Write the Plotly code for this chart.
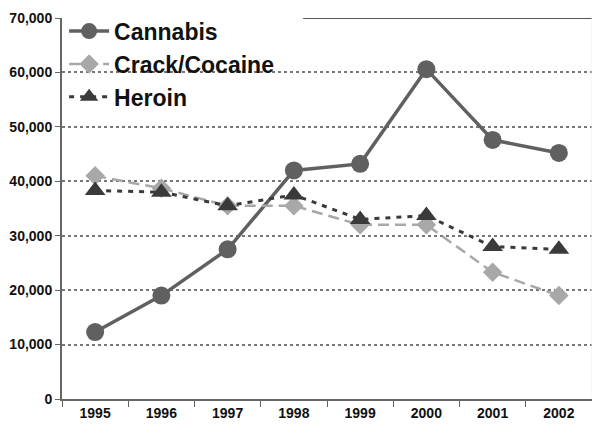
import plotly.graph_objects as go

years = ["1995", "1996", "1997", "1998", "1999", "2000", "2001", "2002"]
cannabis = [12300, 19000, 27500, 42000, 43200, 60600, 47600, 45200]
crack = [41000, 38700, 35500, 35500, 32000, 32000, 23300, 19000]
heroin = [38300, 38000, 35500, 37500, 33000, 33700, 28000, 27500]
y_ticks = [0, 10000, 20000, 30000, 40000, 50000, 60000, 70000]

FONT = "Arial, Liberation Sans, sans-serif"

fig = go.Figure()
fig.add_trace(go.Scatter(
    x=years, y=cannabis, name="Cannabis", mode="lines+markers",
    line=dict(color="#606060", width=3.5),
    marker=dict(symbol="circle", size=18, color="#606060"),
))
fig.add_trace(go.Scatter(
    x=years, y=crack, name="Crack/Cocaine", mode="lines+markers",
    line=dict(color="#a8a8a8", width=2.5, dash="11px,6px"),
    marker=dict(symbol="diamond", size=15, color="#a8a8a8"),
))
fig.add_trace(go.Scatter(
    x=years, y=heroin, name="Heroin", mode="lines+markers",
    line=dict(color="#3a3a3a", width=3, dash="5px,6px"),
    marker=dict(symbol="triangle-up", size=18, color="#3a3a3a"),
))

# white legend backdrop (hides gridlines behind the legend area)
fig.add_shape(type="rect", xref="paper", yref="paper", x0=0, x1=0.455, y0=0.755, y1=1.0,
              fillcolor="white", line=dict(width=0), layer="between")
fig.add_shape(type="line", xref="paper", yref="y", x0=0.455, x1=1, y0=70000, y1=70000,
              line=dict(color="#555555", width=2))
fig.add_shape(type="line", xref="paper", yref="paper", x0=1, x1=1, y0=0, y1=1,
              line=dict(color="#eeeeee", width=1))

fig.update_layout(
    width=600, height=440,
    margin=dict(l=54, r=16, t=10, b=49, autoexpand=False),
    paper_bgcolor="white", plot_bgcolor="white",
    font=dict(family=FONT, color="#111111"),
    showlegend=True,
    legend=dict(
        x=0.004, y=1.022, xanchor="left", yanchor="top",
        bgcolor="rgba(0,0,0,0)", font=dict(size=23, family=FONT, weight="bold", color="#111111"),
        tracegroupgap=0, itemwidth=40,
    ),
)
fig.update_xaxes(
    type="category", tickson="boundaries", ticks="outside", ticklen=6,
    tickcolor="#666666", showline=True, linecolor="#666666", linewidth=2,
    showgrid=False, tickfont=dict(size=14, weight="bold", color="#111111", family=FONT),
    range=[-0.5, 7.5], automargin=False,
)
fig.update_yaxes(
    range=[0, 70000], tickvals=y_ticks, tickformat=",",
    ticks="outside", ticklen=5, tickcolor="#666666",
    showline=True, linecolor="#666666", linewidth=2,
    showgrid=True, gridcolor="#777777", gridwidth=1.5, griddash="dot",
    zeroline=False, tickfont=dict(size=14, weight="bold", color="#111111", family=FONT),
    automargin=False,
)

fig.write_html("out.html")
